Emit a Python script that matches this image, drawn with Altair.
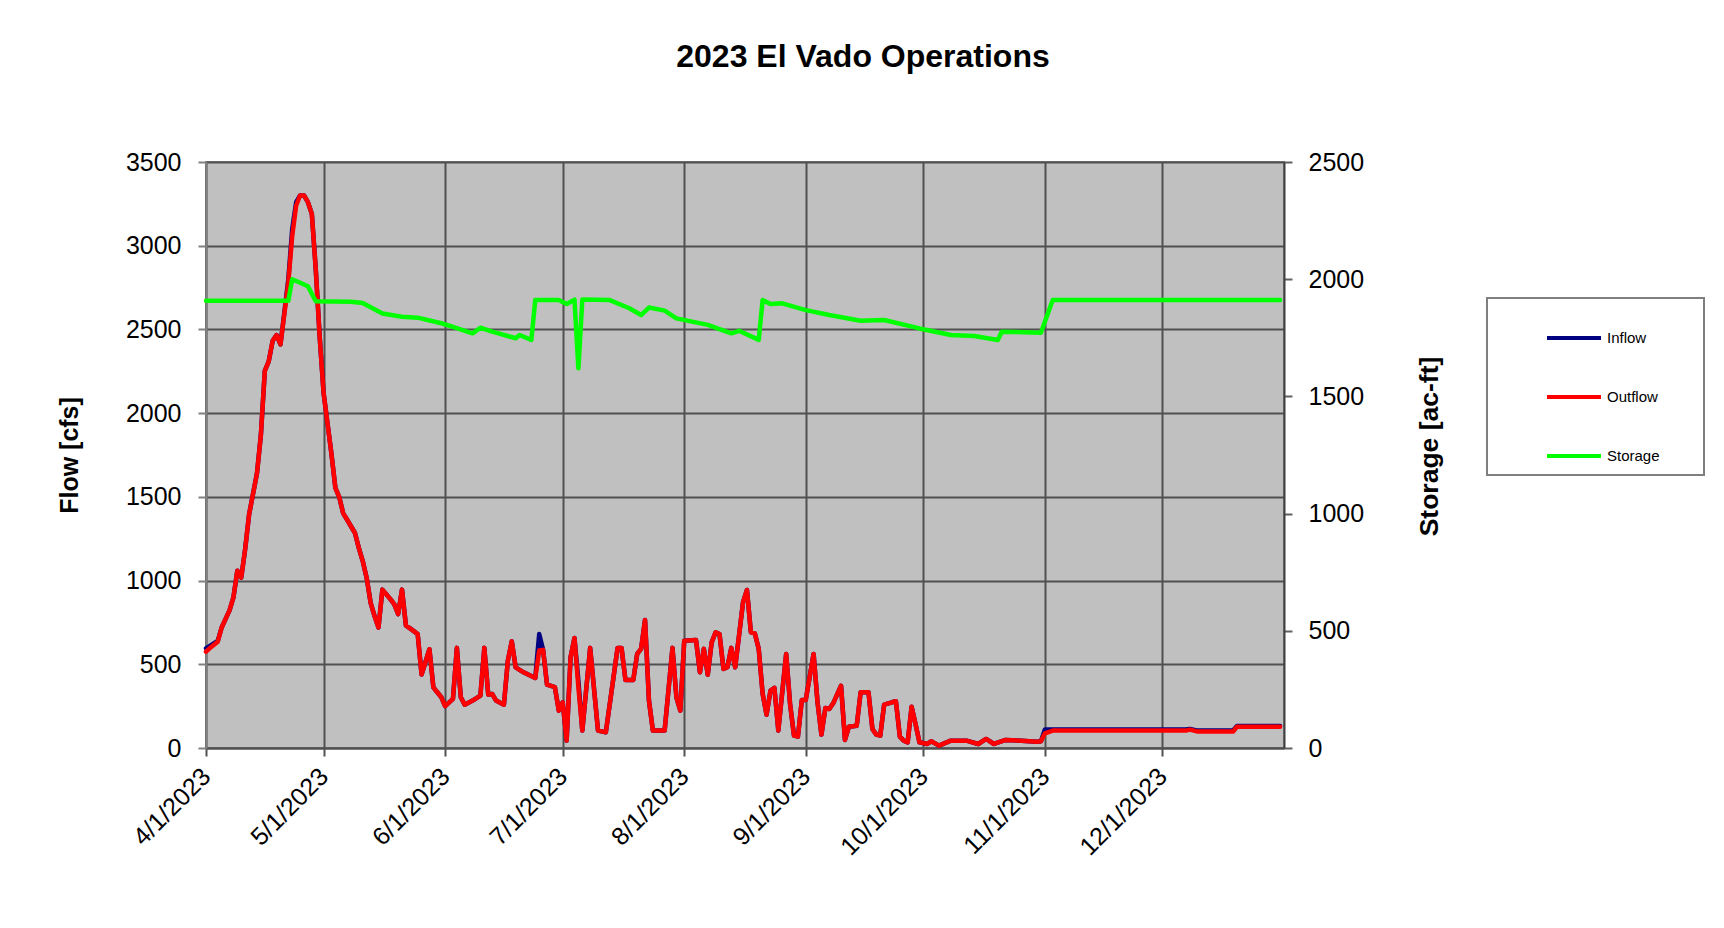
import altair as alt
import pandas as pd

TITLE = "2023 El Vado Operations"
series_names = ["Inflow", "Outflow", "Storage"]
series_colors = ["#000080", "#ff0000", "#00ff00"]

flow_dates = [
    "2023-04-01", "2023-04-02", "2023-04-04", "2023-04-05", "2023-04-07", "2023-04-08",
    "2023-04-09", "2023-04-10", "2023-04-11", "2023-04-12", "2023-04-14", "2023-04-15",
    "2023-04-16", "2023-04-17", "2023-04-18", "2023-04-19", "2023-04-20", "2023-04-22",
    "2023-04-23", "2023-04-24", "2023-04-25", "2023-04-26", "2023-04-27", "2023-04-28",
    "2023-04-29", "2023-04-30", "2023-05-01", "2023-05-03", "2023-05-04", "2023-05-05",
    "2023-05-06", "2023-05-07", "2023-05-09", "2023-05-10", "2023-05-11", "2023-05-12",
    "2023-05-13", "2023-05-14", "2023-05-15", "2023-05-16", "2023-05-18", "2023-05-19",
    "2023-05-20", "2023-05-21", "2023-05-22", "2023-05-24", "2023-05-25", "2023-05-26",
    "2023-05-28", "2023-05-29", "2023-05-30", "2023-05-31", "2023-06-01", "2023-06-03",
    "2023-06-04", "2023-06-05", "2023-06-06", "2023-06-08", "2023-06-10", "2023-06-11",
    "2023-06-12", "2023-06-13", "2023-06-14", "2023-06-16", "2023-06-17", "2023-06-18",
    "2023-06-19", "2023-06-21", "2023-06-24", "2023-06-25", "2023-06-26", "2023-06-27",
    "2023-06-29", "2023-06-30", "2023-07-01", "2023-07-02", "2023-07-03", "2023-07-04",
    "2023-07-05", "2023-07-06", "2023-07-08", "2023-07-10", "2023-07-12", "2023-07-15",
    "2023-07-16", "2023-07-17", "2023-07-19", "2023-07-20", "2023-07-21", "2023-07-22",
    "2023-07-23", "2023-07-24", "2023-07-27", "2023-07-29", "2023-07-30", "2023-07-31",
    "2023-08-01", "2023-08-04", "2023-08-05", "2023-08-06", "2023-08-07", "2023-08-08",
    "2023-08-09", "2023-08-10", "2023-08-11", "2023-08-12", "2023-08-13", "2023-08-14",
    "2023-08-16", "2023-08-17", "2023-08-18", "2023-08-19", "2023-08-20", "2023-08-21",
    "2023-08-22", "2023-08-23", "2023-08-24", "2023-08-25", "2023-08-27", "2023-08-28",
    "2023-08-29", "2023-08-30", "2023-08-31", "2023-09-01", "2023-09-03", "2023-09-04",
    "2023-09-05", "2023-09-06", "2023-09-07", "2023-09-08", "2023-09-10", "2023-09-11",
    "2023-09-12", "2023-09-14", "2023-09-15", "2023-09-17", "2023-09-18", "2023-09-19",
    "2023-09-20", "2023-09-21", "2023-09-23", "2023-09-24", "2023-09-25", "2023-09-26",
    "2023-09-27", "2023-09-28", "2023-09-29", "2023-09-30", "2023-10-02", "2023-10-03",
    "2023-10-05", "2023-10-08", "2023-10-12", "2023-10-15", "2023-10-17", "2023-10-19",
    "2023-10-22", "2023-10-26", "2023-10-30", "2023-10-31", "2023-11-01", "2023-11-03",
    "2023-12-07", "2023-12-08", "2023-12-10", "2023-12-19", "2023-12-20", "2023-12-31",
]

outflow_cfs = [
    575, 597, 635, 720, 822, 900,
    1059, 1018, 1190, 1396, 1640, 1869,
    2252, 2309, 2432, 2466, 2410, 2780,
    3060, 3240, 3300, 3300, 3260, 3190,
    2860, 2455, 2120, 1757, 1554, 1498,
    1401, 1363, 1284, 1194, 1115, 1014,
    867, 788, 720, 946, 890, 860,
    800, 946, 732, 698, 680, 439,
    590, 362, 333, 305, 250, 293,
    598, 303, 259, 283, 313, 598,
    319, 323, 283, 259, 522, 637,
    482, 452, 418, 582, 586, 378,
    363, 223, 273, 44, 542, 657,
    363, 104, 598, 104, 94, 598,
    598, 406, 406, 562, 592, 765,
    283, 104, 104, 598, 303, 223,
    641, 645, 452, 592, 438, 631,
    691, 681, 472, 482, 598, 482,
    871, 944, 691, 685, 592, 323,
    199, 343, 359, 104, 562, 263,
    74, 68, 287, 287, 562, 273,
    80, 239, 233, 267, 372, 48,
    127, 133, 333, 333, 114, 80,
    74, 259, 273, 279, 68, 44,
    34, 247, 143, 34, 24, 40,
    14, 44, 44, 24, 54, 24,
    48, 44, 38, 40, 88, 104,
    104, 110, 98, 98, 127, 127,
]

inflow_cfs = [
    595, 610, 640, 720, 822, 900,
    1059, 1018, 1190, 1396, 1640, 1869,
    2252, 2309, 2432, 2466, 2410, 2800,
    3100, 3260, 3300, 3300, 3260, 3190,
    2860, 2455, 2120, 1757, 1554, 1498,
    1401, 1363, 1284, 1194, 1115, 1014,
    867, 788, 720, 946, 890, 860,
    800, 946, 732, 698, 680, 439,
    590, 362, 333, 305, 250, 293,
    598, 303, 259, 283, 313, 598,
    319, 323, 283, 259, 522, 637,
    482, 452, 418, 681, 586, 378,
    363, 223, 273, 44, 542, 657,
    400, 104, 598, 104, 94, 598,
    598, 406, 406, 562, 592, 765,
    283, 104, 104, 598, 303, 223,
    641, 645, 452, 592, 438, 631,
    691, 681, 472, 482, 598, 482,
    871, 944, 691, 685, 592, 323,
    199, 343, 359, 104, 562, 263,
    74, 68, 287, 287, 562, 273,
    80, 239, 233, 267, 372, 48,
    127, 133, 333, 333, 114, 80,
    74, 259, 273, 279, 68, 44,
    34, 247, 143, 34, 24, 40,
    14, 44, 44, 24, 54, 24,
    48, 44, 38, 40, 110, 110,
    110, 114, 104, 104, 131, 131,
]

storage_dates = [
    "2023-04-01", "2023-04-22", "2023-04-23", "2023-04-27", "2023-04-29", "2023-05-08",
    "2023-05-11", "2023-05-16", "2023-05-21", "2023-05-25", "2023-05-31", "2023-06-03",
    "2023-06-08", "2023-06-10", "2023-06-13", "2023-06-19", "2023-06-20", "2023-06-23",
    "2023-06-24", "2023-06-30", "2023-07-02", "2023-07-04", "2023-07-05", "2023-07-06",
    "2023-07-13", "2023-07-18", "2023-07-21", "2023-07-23", "2023-07-27", "2023-07-30",
    "2023-08-07", "2023-08-13", "2023-08-15", "2023-08-20", "2023-08-21", "2023-08-23",
    "2023-08-26", "2023-09-01", "2023-09-07", "2023-09-15", "2023-09-21", "2023-09-30",
    "2023-10-08", "2023-10-14", "2023-10-20", "2023-10-21", "2023-10-31", "2023-11-03",
    "2023-12-31",
]

storage_acft = [
    1908, 1908, 2000, 1970, 1906, 1904,
    1898, 1854, 1840, 1836, 1812, 1797,
    1769, 1793, 1776, 1748, 1762, 1741,
    1911, 1911, 1894, 1913, 1620, 1913,
    1911, 1876, 1847, 1879, 1866, 1833,
    1805, 1769, 1780, 1741, 1911, 1894,
    1897, 1868, 1847, 1823, 1826, 1790,
    1762, 1758, 1741, 1776, 1772, 1911,
    1911,
]

flow_ticks = [0, 500, 1000, 1500, 2000, 2500, 3000, 3500]
storage_ticks = [0, 500, 1000, 1500, 2000, 2500]
month_ticks = [(2023, m) for m in range(4, 13)]

flow_df = pd.concat([
    pd.DataFrame({"date": [d + "T00:00:00" for d in flow_dates], "series": "Inflow", "value": inflow_cfs}),
    pd.DataFrame({"date": [d + "T00:00:00" for d in flow_dates], "series": "Outflow", "value": outflow_cfs}),
], ignore_index=True)
storage_df = pd.DataFrame({"date": [d + "T00:00:00" for d in storage_dates],
                           "series": "Storage", "value": storage_acft})

FONT = "Liberation Sans"
color_scale = alt.Scale(domain=series_names, range=series_colors)
x_domain = [alt.DateTime(year=2023, month=4, date=1), alt.DateTime(year=2024, month=1, date=1)]

x_enc = alt.X(
    "date:T",
    scale=alt.Scale(domain=x_domain, nice=False),
    axis=alt.Axis(
        values=[alt.DateTime(year=y, month=m, date=1) for y, m in month_ticks],
        format="%-m/%-d/%Y", title=None, labelAngle=315, labelAlign="right",
        labelBaseline="middle", labelPadding=16, labelFlush=False, labelOverlap=False,
        grid=True, gridColor="#505050", gridWidth=2,
        domainColor="#505050", domainWidth=2, tickColor="#505050", tickWidth=2, tickSize=8,
    ),
)

# trailing blank (non-whitespace) glyphs widen the legend box on the right
legend = alt.Legend(
    title=None, orient="none", legendX=1281, legendY=136, direction="vertical",
    symbolType="stroke", symbolSize=2916, symbolStrokeWidth=4, symbolOffset=47,
    labelFont=FONT, labelFontSize=15, labelColor="black", labelOffset=4,
    rowPadding=22, padding=11, fillColor="white",
    labelExpr="datum.label + '\u2800\u2800\u2800'",
)

flow = alt.Chart(flow_df).mark_line(strokeWidth=4.5, strokeJoin="round", strokeCap="round").encode(
    x=x_enc,
    y=alt.Y("value:Q", scale=alt.Scale(domain=[0, 3500], nice=False),
            axis=alt.Axis(values=flow_ticks, format="d", title="Flow [cfs]", orient="left",
                          grid=True, gridColor="#505050", gridWidth=2,
                          domainColor="#808080", domainWidth=2, tickColor="#808080",
                          tickWidth=2, tickSize=8, labelPadding=17, titlePadding=43)),
    color=alt.Color("series:N", scale=color_scale, legend=legend),
    detail="series:N",
)

storage = alt.Chart(storage_df).mark_line(strokeWidth=4.5, strokeJoin="round", strokeCap="round").encode(
    x=x_enc,
    y=alt.Y("value:Q", scale=alt.Scale(domain=[0, 2500], nice=False),
            axis=alt.Axis(values=storage_ticks, format="d", title="Storage [ac-ft]", orient="right",
                          grid=False, domainColor="#404040", domainWidth=2,
                          tickColor="#606060", tickWidth=2, tickSize=8,
                          labelPadding=16, titlePadding=53, titleAngle=270,
                          titleBaseline="top", titleFontSize=26.5, titleY=284)),
    color=alt.Color("series:N", scale=color_scale, legend=legend),
)

chart = (
    alt.layer(flow, storage)
    .resolve_scale(y="independent")
    .properties(
        width=1078, height=586,
        title=alt.TitleParams(TITLE, font=FONT, fontSize=32, fontWeight="bold", color="black",
                              anchor="middle", frame="group", dx=118, offset=44, baseline="bottom"),
        autosize=alt.AutoSizeParams(type="none"),
        padding={"left": 198, "top": 154, "right": 430, "bottom": 168},
        background="white",
    )
    .configure_view(fill="#c0c0c0", stroke="#808080", strokeWidth=2)
    .configure_axis(labelFont=FONT, titleFont=FONT, labelFontSize=25, titleFontSize=25,
                    titleFontWeight="bold", labelColor="black", titleColor="black")
    .configure_legend(strokeColor="#7f7f7f", strokeWidth=2)
)

chart.save("out.html", embed_options={"renderer": "svg", "actions": False})
